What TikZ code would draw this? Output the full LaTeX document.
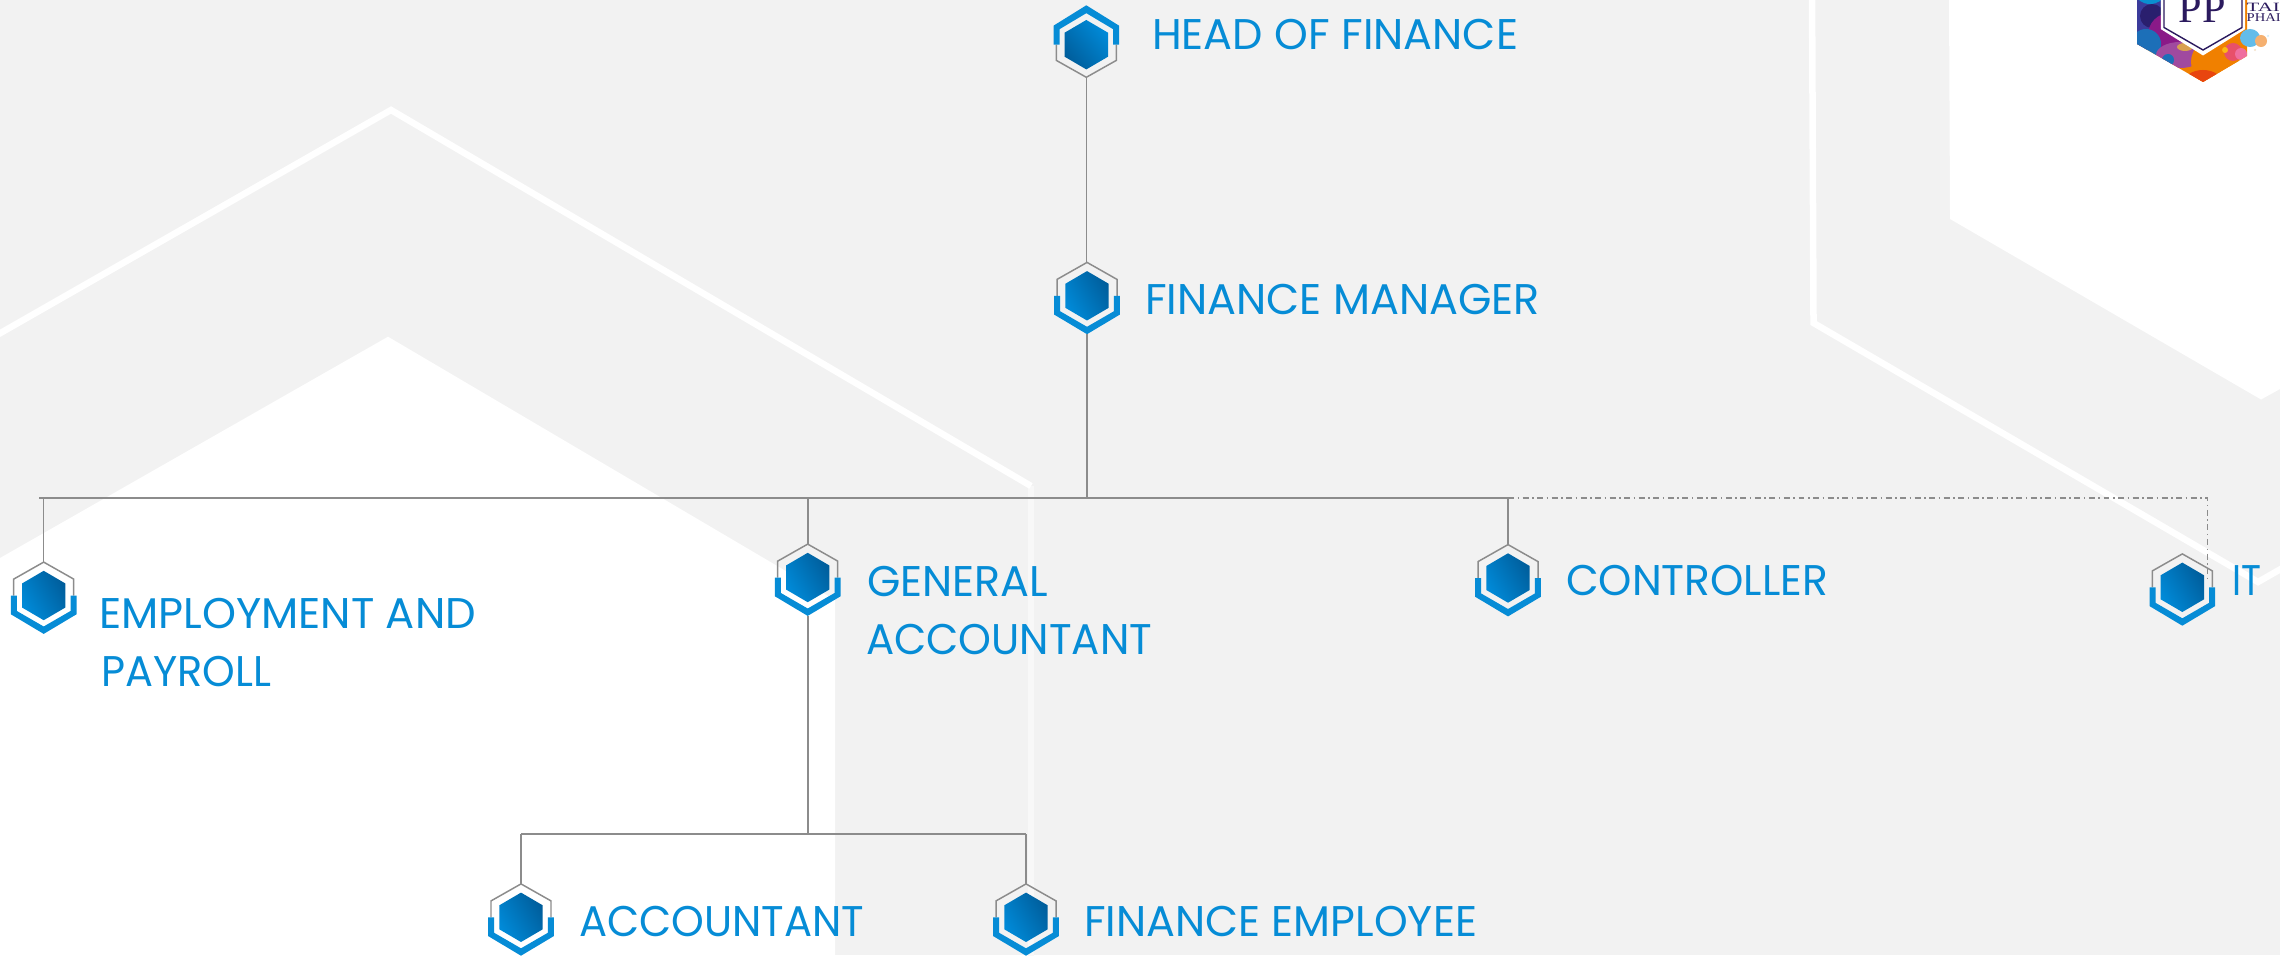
\documentclass[tikz,border=0pt]{standalone}
\usepackage{fontspec}
\usepackage{graphicx}
\setmainfont{Poppins}
\newfontfamily\logofont{Liberation Serif}
\newlength\pxu
\setlength\pxu{0.01cm}
\definecolor{bggray}{HTML}{F2F2F2}
\definecolor{linegray}{HTML}{8C8C8C}
\definecolor{brandblue}{HTML}{068CD6}
\definecolor{hexlight}{HTML}{008AD8}
\definecolor{hexdark}{HTML}{005E9C}
\definecolor{logoink}{HTML}{2B1A5E}
\definecolor{lgA}{HTML}{3B3B9B}
\definecolor{lgB}{HTML}{0A8FD0}
\definecolor{lgC}{HTML}{2A1F6E}
\definecolor{lgD}{HTML}{1C6FB8}
\definecolor{lgE}{HTML}{8A1A88}
\definecolor{lgF}{HTML}{A04A9F}
\definecolor{lgG}{HTML}{D9A050}
\definecolor{lgH}{HTML}{F08000}
\definecolor{lgI}{HTML}{E8450F}
\definecolor{lgJ}{HTML}{EF6F9F}
\definecolor{lgK}{HTML}{E8506A}
\definecolor{lgL}{HTML}{FDB813}
\definecolor{lgM}{HTML}{20A0E0}
\definecolor{lgN}{HTML}{F5B070}
\newcommand\fitw[2]{\resizebox{#1\pxu}{\height}{#2}}
\tikzset{
  lbl/.style={anchor=base west,inner sep=0pt,outer sep=0pt,text=brandblue,font=\fontsize{12.2pt}{14pt}\selectfont},
  conn/.style={draw=linegray,line width=0.45pt},
  outlinewhite/.style={draw=white,line width=1.85pt,miter limit=10},
  capicon/.pic={
    \draw[linegray,line width=0.42pt] (-30,0) -- (-30,15.7) -- (0,32.6) -- (30,15.7) -- (30,0);
    \fill[brandblue] (-32.8,0) -- (-32.8,-19) -- (0,-39.4) -- (32.8,-19) -- (32.8,0) -- (26.8,0) -- (26.8,-15.5) -- (0,-31.5) -- (-26.8,-15.5) -- (-26.8,0) -- cycle;
    \shade[top color=hexlight,bottom color=hexdark,shading angle=-50] (0,-24.7) -- (21.7,-12) -- (21.7,12) -- (0,24.7) -- (-21.7,12) -- (-21.7,-12) -- cycle;
    \coordinate (-top) at (0,-39.4);
    \coordinate (-bot) at (0,32.6);
  },
  cupicon/.pic={
    \draw[linegray,line width=0.42pt] (-30,0) -- (-30,-16.4) -- (0,-33.4) -- (30,-16.4) -- (30,0);
    \fill[brandblue] (-32.8,0) -- (-32.8,18.8) -- (0,38.4) -- (32.8,18.8) -- (32.8,0) -- (26.8,0) -- (26.8,15.5) -- (0,31) -- (-26.8,15.5) -- (-26.8,0) -- cycle;
    \shade[top color=hexdark,bottom color=hexlight,shading angle=-60] (0,-24.7) -- (21.7,-12) -- (21.7,12) -- (0,24.7) -- (-21.7,12) -- (-21.7,-12) -- cycle;
    \coordinate (-top) at (0,-33.4);
    \coordinate (-bot) at (0,38.4);
  }
}
\begin{document}
\begin{tikzpicture}[x=0.01cm,y=-0.01cm]
\useasboundingbox (0,0) rectangle (2280,955);
\begin{scope}
\clip (0,0) rectangle (2280,955);
% background
\fill[bggray] (0,0) rectangle (2280,955);
\fill[white] (0,558) -- (388,336.7) -- (835,600) -- (835,955) -- (0,955) -- cycle;
\fill[white] (1949,0) -- (1950,219) -- (2261,399.5) -- (2280,389) -- (2280,0) -- cycle;
\draw[draw=white!45!bggray,line width=1.85pt] (1031,486) -- (1031,960);
\draw[outlinewhite] (-10,339) -- (391,110) -- (1031,486);
\draw[outlinewhite] (1812,-10) -- (1813.5,323) -- (2258,582) -- (2300,558);
% logo
\begin{scope}
\clip (2137,-5) -- (2137,44) -- (2203,82) -- (2247,56) -- (2247,-5) -- cycle;
\fill[lgH] (2130,-5) rectangle (2255,90);
\fill[lgA] (2130,-5) rectangle (2170,50);
\fill[lgB] (2150,-6) ellipse [x radius=14,y radius=10];
\fill[lgC] (2152,16) circle (12);
\fill[lgE] (2170,35) circle (22);
\fill[lgD] (2146,44) circle (15);
\fill[lgF] (2180,55) ellipse [x radius=24,y radius=13];
\fill[lgD] (2168,60) circle (6);
\fill[lgG] (2185,47) ellipse [x radius=8,y radius=4];
\fill[lgH] (2215,62) circle (24);
\fill[lgI] (2203,84) ellipse [x radius=20,y radius=14];
\fill[lgK] (2233,52) circle (9);
\fill[lgJ] (2241,54) circle (6);
\fill[lgL] (2225,50) circle (3);
\end{scope}
\fill[lgM!70!white] (2250,38) ellipse [x radius=10,y radius=9];
\fill[lgN] (2261,41) circle (6);
\fill[white!80!lgM] (2268,36) circle (1.2);
\fill[white!70!lgG] (2255,50) circle (1.2);
\draw[white,line width=1.2pt] (2163,-5) -- (2163,28) -- (2203,53) -- (2243,28) -- (2243,-5);
\fill[white] (2163,-5) -- (2163,28) -- (2203,51) -- (2243,28) -- (2243,-5) -- cycle;
\draw[logoink,line width=0.4pt] (2164,-5) -- (2164,27.5) -- (2203,50) -- (2242,27.5) -- (2242,-5);
\node[anchor=base,inner sep=0pt,text=logoink,font=\logofont\fontsize{12pt}{12pt}\selectfont] (logopp) at (2202,22.7) {PP};
\node[anchor=base west,inner sep=0pt,text=logoink,font=\logofont\fontsize{3.6pt}{4pt}\selectfont] (logotop) at (2246,11.7) {\fitw{33}{TAI}};
\node[anchor=base west,inner sep=0pt,text=logoink,font=\logofont\fontsize{3.4pt}{4pt}\selectfont] (logobot) at (2246,21.7) {\fitw{34}{PHAI}};
% icons
\pic (head) at (1086.3,44.7) {capicon};
\pic (fm) at (1087,295.8) {cupicon};
\pic (emp) at (43.7,595.5) {cupicon};
\pic (ga) at (807.7,577.5) {cupicon};
\pic (ctl) at (1508,578) {cupicon};
\pic (itx) at (2182.3,587.3) {cupicon};
\pic (acc) at (521,917.3) {cupicon};
\pic (fe) at (1026,917.3) {cupicon};
% connectors
\coordinate (busL) at (39,498);
\coordinate (busR) at (1508,498);
\coordinate (busDash) at (2207.7,498);
\coordinate (dashEnd) at (2207.7,578);
\coordinate (subL) at (521,834);
\coordinate (subR) at (1026,834);
\draw[conn] (head-bot) -- (head-bot |- fm-top);
\draw[conn] (fm-bot) -- (fm-bot |- busL);
\draw[conn] (busL) -- (busR);
\draw[conn] (emp-top |- busL) -- (emp-top);
\draw[conn] (ga-top |- busL) -- (ga-top);
\draw[conn] (busR) -- (ctl-top);
\draw[conn] (ga-bot) -- (ga-bot |- subL);
\draw[conn] (subL) -- (subR);
\draw[conn] (subL) -- (acc-top);
\draw[conn] (subR) -- (fe-top);
\draw[linegray,line width=0.42pt,dash pattern=on 1.7pt off 1pt on 0.43pt off 1pt] (busR) -- (busDash) -- (dashEnd);
% labels
\node[lbl] (t1) at (1152,50) {\fitw{366}{HEAD OF FINANCE}};
\node[lbl] (t2) at (1145,315) {\fitw{395}{FINANCE MANAGER}};
\node[lbl] (t3a) at (99,628.5) {\fitw{377}{EMPLOYMENT AND}};
\node[lbl] (t3b) at (101,686) {\fitw{170}{PAYROLL}};
\node[lbl] (t4a) at (867,596) {\fitw{181}{GENERAL}};
\node[lbl] (t4b) at (866,654) {\fitw{286}{ACCOUNTANT}};
\node[lbl] (t5) at (1566,595) {\fitw{262}{CONTROLLER}};
\node[lbl] (t6) at (2232,595) {\fitw{29}{IT}};
\node[lbl] (t7) at (579,936) {\fitw{285}{ACCOUNTANT}};
\node[lbl] (t8) at (1084,936) {\fitw{393}{FINANCE EMPLOYEE}};
\end{scope}
\end{tikzpicture}
\end{document}
